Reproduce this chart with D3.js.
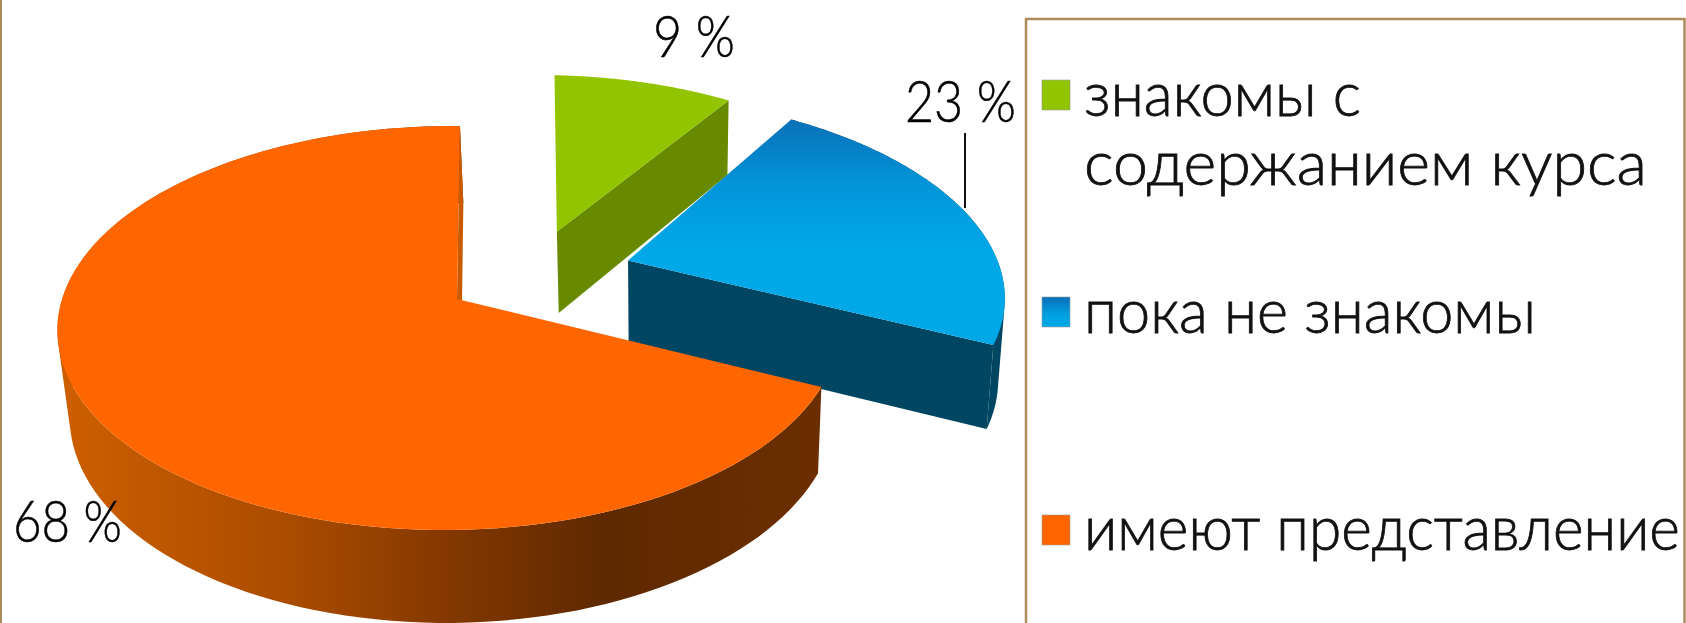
<!DOCTYPE html>
<html><head><meta charset="utf-8">
<style>html,body{margin:0;padding:0;background:#fff;overflow:hidden}svg{display:block}</style>
<script src="https://cdn.jsdelivr.net/npm/d3@7"></script></head><body>
<svg id="c" width="1686" height="623"></svg>
<script>
const categories = ["знакомы с содержанием курса", "пока не знакомы", "имеют представление"];
const legendLines = [["знакомы с", "содержанием курса"], ["пока не знакомы"], ["имеют представление"]];
const values = [9, 23, 68];
const valueLabels = ["9 %", "23 %", "68 %"];
const topColors = ["#93C400", "url(#blueTop)", "#FF6600"];
const cutColors = ["#688A00", "#004662", "#C85A00"];
const wallColors = ["#688A00", "#004662", "url(#orangeWall)"];

const W = 1686, H = 623, svg = d3.select("#c");
const defs = svg.append("defs");
function grad(id, horiz, x1, x2, stops){
  const g = defs.append("linearGradient").attr("id", id).attr("gradientUnits","userSpaceOnUse");
  if(horiz) g.attr("x1",x1).attr("x2",x2).attr("y1",0).attr("y2",0);
  else g.attr("x1",0).attr("x2",0).attr("y1",x1).attr("y2",x2);
  stops.forEach(s=>g.append("stop").attr("offset",s[0]).attr("stop-color",s[1]));
}
grad("blueTop", false, 119, 250, [[0,"#0A70B8"],[0.5,"#0295D8"],[1,"#00A8E8"]]);
grad("orangeWall", true, 70, 820, [[0,"#CC5E00"],[0.3,"#A94B00"],[0.5,"#843800"],[0.71,"#5E2900"],[1,"#6C2E00"]]);
defs.append("linearGradient").attr("id","blueSw").attr("x1",0).attr("x2",0).attr("y1",0).attr("y2",1)
  .selectAll("stop").data([[0,"#0A70B8"],[0.6,"#00A0E2"],[1,"#00A8E8"]]).join("stop")
  .attr("offset",d=>d[0]).attr("stop-color",d=>d[1]);

// perspective projection of the tilted disc
const P = {x0:457,y0:299,b:387,c:-3.4,a:197.8,p:-0.1436,q:0.02,r:0.02,s:4,t:86};
function project(u,v,h){
  const den = 1+P.p*v+P.q*u+P.r*h;
  return [P.x0+(P.b*u+P.c*v+P.s*h)/den, P.y0+(P.a*v+P.t*h)/den];
}
const baseExplode = 0.24;
const sliceExplode = [0.24, 0.265, 0.24];
const sliceRadius = [1, 1.02, 1];
const sliceTurn = [0.021, 0, 0];
const dir = a => [Math.sin(a), -Math.cos(a)];
const pie = d3.pie().sort(null)(values);
const oMid = (pie[2].startAngle+pie[2].endAngle)/2;
const centre = [-baseExplode*dir(oMid)[0], -baseExplode*dir(oMid)[1]];
const line = d3.line();
const STEPS = 120;
function slicePt(d,i,a,rad,h){
  const m=(d.startAngle+d.endAngle)/2, e=dir(m), r=dir(a+sliceTurn[i]);
  const ex=sliceExplode[i], R=rad*sliceRadius[i];
  return project(centre[0]+ex*e[0]+R*r[0], centre[1]+ex*e[1]+R*r[1], h);
}
function arcAngles(d){ return d3.range(STEPS+1).map(t=>d.startAngle+(d.endAngle-d.startAngle)*t/STEPS); }
function quadPath(q){
  const area = d3.polygonArea(q);
  return line(area<0 ? q.slice().reverse() : q)+"Z";
}

const g = svg.append("g");
pie.forEach((d,i)=>{
  const as = arcAngles(d);
  // outer wall: union of small quads so the silhouette is the true tangent
  if(i>0){
    const quads = d3.pairs(as).map(([a0,a1])=>quadPath([
      slicePt(d,i,a0,1,0),slicePt(d,i,a1,1,0),slicePt(d,i,a1,1,1),slicePt(d,i,a0,1,1)]));
    g.append("path").attr("d",quads.join("")).attr("fill",wallColors[i]).attr("fill-rule","nonzero");
  }
  // cut face at the end angle
  const cut=[slicePt(d,i,d.endAngle,0,0),slicePt(d,i,d.endAngle,1,0),slicePt(d,i,d.endAngle,1,1),slicePt(d,i,d.endAngle,0,1)];
  g.append("path").attr("d",line(cut)+"Z").attr("fill",cutColors[i]);
  // top face
  const top=[slicePt(d,i,d.startAngle,0,0)].concat(as.map(a=>slicePt(d,i,a,1,0)));
  g.append("path").attr("d",line(top)+"Z").attr("fill",topColors[i]);
});

// frame
const frame="#AD8C5C";
svg.append("rect").attr("x",0).attr("y",0).attr("width",2).attr("height",H).attr("fill",frame);
svg.append("path").attr("d","M1026,623V19H1684.5V623").attr("fill","none").attr("stroke",frame).attr("stroke-width",2.5);

// leader
svg.append("line").attr("x1",965).attr("x2",965).attr("y1",133).attr("y2",208).attr("stroke","#111").attr("stroke-width",2);

// text is fitted to its measured width with a horizontal scale
function fit(sel){
  sel.each(function(d){
    const n=this.getComputedTextLength();
    d3.select(this).attr("transform",`translate(${d.x},${d.y}) scale(${d.w/n},1)`);
  });
}
const font='Lato, "Open Sans", sans-serif';
const labelPos=[[653,57,82],[905,122,111],[13,542,109]];
svg.selectAll("text.v").data(valueLabels.map((t,i)=>({t,x:labelPos[i][0],y:labelPos[i][1],w:labelPos[i][2]}))).join("text").attr("class","v")
  .attr("font-family",font).attr("font-weight",300).attr("font-size",58).attr("fill","#000")
  .attr("stroke","#000").attr("stroke-width",0.5).text(d=>d.t).call(fit);

// legend
const swY=[80,297,515];
const swFill=["#93C400","url(#blueSw)","#FF6600"];
svg.selectAll("rect.s").data(categories).join("rect").attr("class","s")
  .attr("x",1042).attr("width",28).attr("y",(d,i)=>swY[i]).attr("height",30)
  .attr("fill",(d,i)=>swFill[i]).attr("stroke","#9a9a9a").attr("stroke-width",0.6);
const rows=[[0,0,116,277],[0,1,185,563],[1,0,333,452],[2,0,550,596]];
svg.selectAll("text.l").data(rows.map(r=>({t:legendLines[r[0]][r[1]],x:1084,y:r[2],w:r[3]}))).join("text").attr("class","l")
  .attr("font-family",font).attr("font-weight",300).attr("font-size",62).attr("fill","#111")
  .attr("stroke","#111").attr("stroke-width",0.8).text(d=>d.t).call(fit);
</script></body></html>
